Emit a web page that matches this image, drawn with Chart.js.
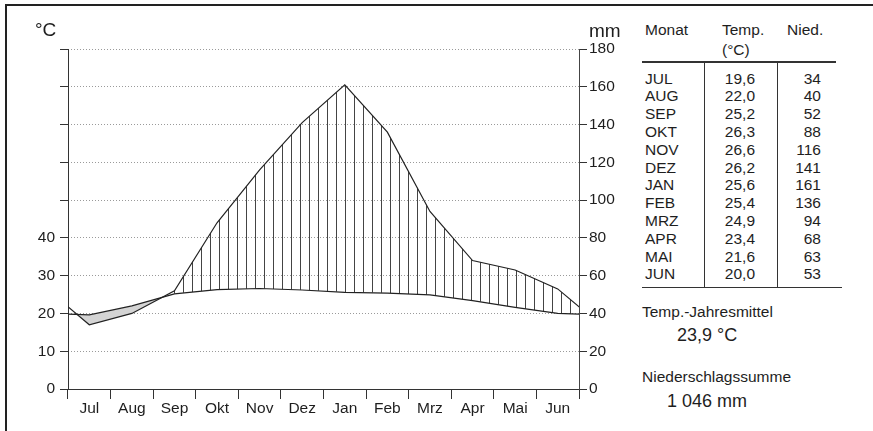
<!DOCTYPE html>
<html>
<head>
<meta charset="utf-8">
<script src="https://cdn.jsdelivr.net/npm/chart.js@4.4.1/dist/chart.umd.min.js"></script>
<style>
body{margin:0;width:873px;height:431px;overflow:hidden;background:#fff;position:relative;
  font-family:'Liberation Sans',Arial,Helvetica,sans-serif;color:#1e1e1e}
#rahmen{position:absolute;left:5px;top:4px;right:-4px;bottom:-4px;border-top:2px solid #222;border-left:2px solid #222}
#wrap{position:absolute;left:0;top:0;width:640px;height:431px}
.t{position:absolute;white-space:nowrap;line-height:18px;font-size:15.5px}
.r{text-align:right;width:60px}
.ln{position:absolute;background:#333}
</style>
</head>
<body>
<div id="rahmen"></div>
<div id="wrap"><canvas id="klima" width="640" height="431"></canvas></div>
<div id="tabelle"></div>

<script>
const monate = ['Jul', 'Aug', 'Sep', 'Okt', 'Nov', 'Dez', 'Jan', 'Feb', 'Mrz', 'Apr', 'Mai', 'Jun'];
const temperatur = [19.6, 22.0, 25.2, 26.3, 26.6, 26.2, 25.6, 25.4, 24.9, 23.4, 21.6, 20.0];
const niederschlag = [34, 40, 52, 88, 116, 141, 161, 136, 94, 68, 63, 53];
const tempMaxLabel = 40;
const jahresmittel = '23,9 °C';
const jahressumme = '1 046 mm';

const schrift = {family: "'Liberation Sans', Arial, sans-serif", size: 15.5};

// punkte in der monatsmitte, vorher/nachher der nachbarmonat (wird am rand abgeschnitten)
function punkte(werte){
    const n = werte.length;
    const p = [{x: -0.5, y: werte[n - 1]}];
    werte.forEach((v, i) => p.push({x: i + 0.5, y: v}));
    p.push({x: n + 0.5, y: werte[0]});
    return p;
}

// senkrechte schraffur fuer die humiden monate
const musterCanvas = document.createElement('canvas');
musterCanvas.width = 9;
musterCanvas.height = 4;
const mctx = musterCanvas.getContext('2d');
mctx.fillStyle = '#444';
mctx.fillRect(3, 0, 1, 4);
const schraffur = mctx.createPattern(musterCanvas, 'repeat');

new Chart(document.getElementById('klima'), {
    type: 'line',
    data: {
        datasets: [
            {
                label: 'Niederschlag',
                data: punkte(niederschlag),
                xAxisID: 'x',
                yAxisID: 'y',
                borderColor: '#222',
                borderWidth: 1.2,
                pointRadius: 0,
                tension: 0,
                fill: {target: 1, above: schraffur, below: '#d4d4d4'}
            },
            {
                label: 'Temperatur',
                data: punkte(temperatur),
                xAxisID: 'x',
                yAxisID: 'yT',
                borderColor: '#222',
                borderWidth: 1.2,
                pointRadius: 0,
                tension: 0,
                fill: false
            }
        ]
    },
    options: {
        responsive: false,
        animation: false,
        devicePixelRatio: 1,
        layout: {padding: {top: 49, left: 0, right: 0, bottom: 0}},
        plugins: {
            legend: {display: false},
            tooltip: {enabled: false},
            filler: {drawTime: 'beforeDatasetsDraw'}
        },
        scales: {
            x: {type: 'linear', min: 0, max: 12, display: false},
            xm: {
                type: 'category',
                labels: monate,
                position: 'bottom',
                offset: true,
                grid: {offset: true, drawOnChartArea: false, tickLength: 10, color: '#333'},
                border: {color: '#333'},
                ticks: {font: schrift, color: '#1e1e1e', padding: 0, maxRotation: 0, autoSkip: false},
                afterFit(s){ s.height = 42; }
            },
            yT: {
                position: 'left',
                min: 0,
                max: 90,
                ticks: {
                    stepSize: 10,
                    padding: 5,
                    font: schrift,
                    color: '#1e1e1e',
                    callback: (v) => v <= tempMaxLabel ? v : ''
                },
                grid: {drawOnChartArea: false, tickLength: 8, color: '#333'},
                border: {color: '#333'},
                afterFit(s){ s.width = 68; }
            },
            y: {
                position: 'right',
                min: 0,
                max: 180,
                ticks: {stepSize: 20, padding: 2, font: schrift, color: '#1e1e1e'},
                grid: {
                    color: (c) => (c.tick && c.tick.value === 0) ? 'rgba(0,0,0,0)' : '#9a9a9a',
                    tickColor: '#333',
                    tickBorderDash: [],
                    tickLength: 8
                },
                border: {color: '#444', dash: [1, 2]},
                afterFit(s){ s.width = 61; }
            }
        }
    }
});

// beschriftungen und tabelle rechts
const tab = document.getElementById('tabelle');
function text(inhalt, x, ymitte, extra){
    const d = document.createElement('div');
    d.className = 't' + (extra && extra.rechts ? ' r' : '');
    d.textContent = inhalt;
    d.style.left = (extra && extra.rechts ? x - 60 : x) + 'px';
    d.style.top = (ymitte - 9) + 'px';
    if (extra && extra.groesse) d.style.fontSize = extra.groesse + 'px';
    tab.appendChild(d);
}
function linie(x, y, b, h){
    const d = document.createElement('div');
    d.className = 'ln';
    d.style.left = x + 'px';
    d.style.top = y + 'px';
    d.style.width = b + 'px';
    d.style.height = h + 'px';
    tab.appendChild(d);
}

text('°C', 35, 30, {groesse: 19});
text('mm', 589, 31, {groesse: 19});

text('Monat', 645, 30);
text('Temp.', 722, 30);
text('(°C)', 722, 50);
text('Nied.', 787, 30);

monate.forEach((m, i) => {
    const y = 78.5 + i * 17.8;
    text(m.toUpperCase(), 645, y);
    text(temperatur[i].toFixed(1).replace('.', ','), 755, y, {rechts: true});
    text(String(niederschlag[i]), 821, y, {rechts: true});
});

linie(642, 61, 194, 1.5);
linie(703.5, 62, 1.5, 225);
linie(776.5, 62, 1.5, 225);
linie(642, 286.5, 200, 1.5);

text('Temp.-Jahresmittel', 642, 312);
text(jahresmittel, 677, 335, {groesse: 18});
text('Niederschlagssumme', 642, 377);
text(jahressumme, 667, 401, {groesse: 18});
</script>
</body>
</html>
